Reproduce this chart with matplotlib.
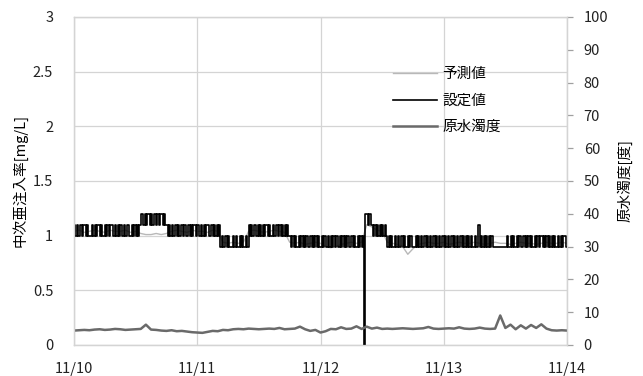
import numpy as np
import matplotlib
matplotlib.use("Agg")
import matplotlib.pyplot as plt

plt.rcParams['font.family'] = ['Noto Sans CJK JP', 'DejaVu Sans']

# Set value (mg/L), one reading every 15 minutes from 11/10 00:00 to 11/14 00:00
# (each row covers four hours)
set_value = [
    1.1, 1.0, 1.1, 1.0, 1.0, 1.1, 1.0, 1.1, 1.1, 1.0, 1.1, 1.0, 1.0, 1.0, 1.1, 1.0,
    1.1, 1.0, 1.1, 1.1, 1.0, 1.1, 1.0, 1.0, 1.1, 1.0, 1.1, 1.0, 1.1, 1.1, 1.0, 1.0,
    1.1, 1.0, 1.1, 1.0, 1.1, 1.0, 1.0, 1.1, 1.0, 1.1, 1.1, 1.0, 1.0, 1.1, 1.0, 1.1,
    1.0, 1.1, 1.0, 1.1, 1.2, 1.2, 1.1, 1.2, 1.1, 1.2, 1.2, 1.1, 1.2, 1.1, 1.2, 1.2,
    1.1, 1.2, 1.1, 1.2, 1.2, 1.1, 1.2, 1.1, 1.1, 1.0, 1.1, 1.0, 1.1, 1.0, 1.0, 1.1,
    1.0, 1.1, 1.0, 1.1, 1.1, 1.0, 1.1, 1.0, 1.0, 1.1, 1.0, 1.1, 1.0, 1.1, 1.1, 1.0,
    1.1, 1.0, 1.0, 1.1, 1.0, 1.1, 1.0, 1.1, 1.1, 1.0, 1.0, 1.1, 1.0, 1.1, 1.0, 1.1,
    1.0, 1.1, 0.9, 1.0, 0.9, 0.9, 1.0, 0.9, 1.0, 0.9, 0.9, 0.9, 1.0, 0.9, 1.0, 0.9,
    0.9, 1.0, 0.9, 1.0, 0.9, 0.9, 1.0, 0.9, 1.1, 1.0, 1.1, 1.0, 1.1, 1.1, 1.0, 1.1,
    1.0, 1.1, 1.0, 1.1, 1.0, 1.1, 1.1, 1.0, 1.1, 1.0, 1.0, 1.1, 1.0, 1.1, 1.1, 1.0,
    1.1, 1.0, 1.1, 1.0, 1.1, 1.0, 1.1, 1.0, 1.0, 0.9, 1.0, 0.9, 1.0, 0.9, 0.9, 1.0,
    0.9, 1.0, 0.9, 1.0, 0.9, 1.0, 0.9, 0.9, 1.0, 0.9, 1.0, 0.9, 1.0, 0.9, 1.0, 0.9,
    0.9, 1.0, 0.9, 1.0, 0.9, 0.9, 1.0, 0.9, 1.0, 0.9, 1.0, 0.9, 1.0, 1.0, 0.9, 1.0,
    0.9, 1.0, 0.9, 1.0, 0.9, 1.0, 0.9, 0.9, 1.0, 0.9, 1.0, 0.9, 0.9, 1.0, 0.9, 1.0,
    0.9, 1.0, 0.0, 1.2, 1.2, 1.1, 1.2, 1.1, 1.1, 1.0, 1.1, 1.0, 1.1, 1.0, 1.1, 1.0,
    1.1, 1.0, 1.1, 1.0, 0.9, 1.0, 0.9, 1.0, 0.9, 0.9, 1.0, 0.9, 1.0, 0.9, 0.9, 1.0,
    0.9, 1.0, 0.9, 0.9, 1.0, 0.9, 1.0, 0.9, 0.9, 0.9, 1.0, 0.9, 1.0, 0.9, 1.0, 0.9,
    0.9, 1.0, 0.9, 1.0, 0.9, 1.0, 0.9, 0.9, 1.0, 0.9, 1.0, 0.9, 1.0, 0.9, 0.9, 1.0,
    0.9, 1.0, 0.9, 1.0, 0.9, 0.9, 1.0, 0.9, 1.0, 0.9, 1.0, 0.9, 0.9, 1.0, 0.9, 1.0,
    0.9, 1.0, 0.9, 1.0, 0.9, 1.0, 0.9, 0.9, 1.0, 0.9, 0.9, 1.1, 0.9, 1.0, 0.9, 1.0,
    0.9, 1.0, 0.9, 1.0, 0.9, 1.0, 0.9, 0.9, 0.9, 0.9, 0.9, 0.9, 0.9, 0.9, 0.9, 0.9,
    0.9, 1.0, 0.9, 0.9, 1.0, 0.9, 1.0, 0.9, 0.9, 1.0, 0.9, 1.0, 0.9, 0.9, 1.0, 0.9,
    1.0, 0.9, 1.0, 0.9, 1.0, 0.9, 0.9, 1.0, 0.9, 1.0, 0.9, 1.0, 1.0, 0.9, 1.0, 0.9,
    1.0, 0.9, 1.0, 0.9, 1.0, 0.9, 1.0, 0.9, 0.9, 1.0, 0.9, 1.0, 0.9, 1.0, 1.0, 0.9,
    0.9,
]

# Predicted value (mg/L), hourly
predicted = [
    1.04, 1.05, 1.03, 1.04, 1.05, 1.04, 1.03, 1.05, 1.04, 1.04, 1.05, 1.03, 1.04,
    1.02, 1.01, 1.01, 1.02, 1.01, 1.02,
    1.04, 1.05, 1.04, 1.03, 1.05, 1.04, 1.04, 1.03, 1.05, 1.04,
    0.94, 0.93, 0.94, 0.93, 0.94,
    1.04, 1.05, 1.04, 1.03, 1.04, 1.05, 1.04, 1.03,
    0.94, 0.93, 0.94, 0.92, 0.93, 0.94, 0.93, 0.90, 0.89, 0.90, 0.92, 0.93, 0.94, 0.93,
    0.94,
    1.10, 1.08, 1.05, 1.04,
    0.94, 0.93, 0.92, 0.90, 0.83, 0.88, 0.92, 0.93, 0.94, 0.93,
    0.93, 0.94, 0.92, 0.93, 0.94, 0.93, 0.93, 0.94, 0.93, 0.92,
    0.93, 0.94, 0.93, 0.93, 0.92, 0.93, 0.94, 0.93, 0.93, 0.92,
    0.93, 0.94, 0.93, 0.93, 0.94, 0.93,
]

# Raw water turbidity (degree), hourly
turbidity = [
    4.4, 4.5, 4.6, 4.5, 4.7, 4.8, 4.6, 4.7, 4.9, 4.8, 4.6, 4.7, 4.8,
    4.9, 6.2, 4.7,
    4.6, 4.4, 4.3, 4.5, 4.2, 4.3, 4.1, 3.9, 3.8,
    3.7, 4.0, 4.3, 4.2, 4.6, 4.5,
    4.8, 4.9, 4.8, 5.0, 4.9, 4.8, 4.9, 5.0, 4.9, 5.2,
    4.8, 4.9, 5.0, 5.6, 4.8, 4.3, 4.6,
    3.8, 4.2, 4.9, 4.8, 5.4, 4.9, 5.0, 5.7,
    4.9, 5.6, 5.0, 5.3, 4.9,
    5.0, 4.9, 5.0, 5.1, 5.0, 4.9, 5.0, 5.1, 5.5, 5.0, 4.9, 5.0, 5.1, 5.0, 5.4, 5.0,
    4.9, 5.0, 5.3, 5.0, 4.9, 5.0,
    9.0, 5.2, 6.2, 4.8, 6.0, 5.0, 6.1, 5.2, 6.3, 5.0,
    4.5, 4.4, 4.5, 4.4,
]

date_labels = ['11/10', '11/11', '11/12', '11/13', '11/14']
series_names = ['予測値', '設定値', '原水濁度']

t_set = np.arange(len(set_value)) / 96.0
t_hour = np.arange(len(predicted)) / 24.0
t_turb = np.arange(len(turbidity)) / 24.0

fig = plt.figure(figsize=(6.43, 3.76), dpi=100)
ax = fig.add_axes([74 / 643, 1 - 345 / 376, (567 - 74) / 643, (345 - 17) / 376])
ax2 = ax.twinx()

grid_c = '#d4d4d4'
ax.set_axisbelow(True)
ax.grid(True, color=grid_c, linewidth=0.9)

l_pred, = ax.plot(t_hour, predicted, color='#b8b8b8', linewidth=1.0, zorder=2)
l_set, = ax.plot(t_set, set_value, color='black', linewidth=1.2,
                 drawstyle='steps-post', zorder=3)
l_turb, = ax2.plot(t_turb, turbidity, color='#6a6a6a', linewidth=1.8)

ax.set_xlim(0, 4)
ax.set_ylim(0, 3)
ax2.set_ylim(0, 100)
ax.set_xticks(range(len(date_labels)))
ax.set_xticklabels(date_labels)
ax.set_yticks(np.arange(0, 3.01, 0.5))
ax.set_yticklabels(['0', '0.5', '1', '1.5', '2', '2.5', '3'])
ax2.set_yticks(range(0, 101, 10))

for a in (ax, ax2):
    for s in a.spines.values():
        s.set_color(grid_c)
        s.set_linewidth(0.9)

ax.tick_params(axis='both', length=0, labelsize=10.5, colors='#222222')
ax.tick_params(axis='y', pad=15)
ax.tick_params(axis='x', pad=12)
ax2.tick_params(axis='y', length=4, width=0.9, color='#a0a0a0', direction='out',
                pad=8, labelsize=10.5, labelcolor='#222222')

ax.set_ylabel('中次亜注入率[mg/L]', fontsize=10.5, labelpad=4)
ax2.set_ylabel('原水濁度[度]', fontsize=10.5, labelpad=6)

fig.legend([l_pred, l_set, l_turb], series_names,
           loc='upper left', bbox_to_anchor=(386 / 643, 1 - 60 / 376),
           frameon=False, fontsize=10.5, handlelength=3.0,
           handletextpad=0.35, labelspacing=0.85, borderpad=0)

fig.savefig('out.png', dpi=100)
